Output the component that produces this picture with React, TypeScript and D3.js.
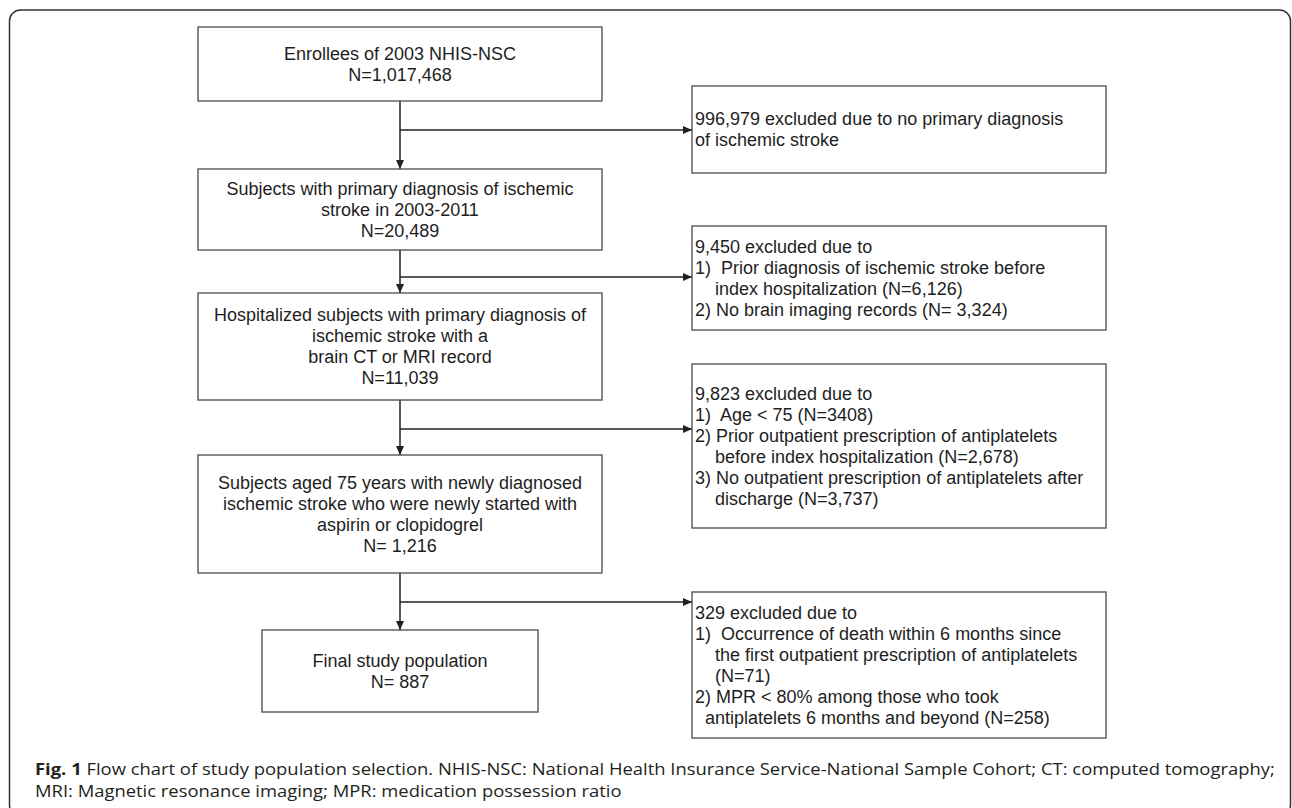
import { useEffect, useRef } from 'react';
import * as d3 from 'd3';

// text of the main flow, top to bottom
const mainSteps: string[][] = [
  ['Enrollees of 2003 NHIS-NSC', 'N=1,017,468'],
  ['Subjects with primary diagnosis of ischemic', 'stroke in 2003-2011', 'N=20,489'],
  ['Hospitalized subjects with primary diagnosis of', 'ischemic stroke with a', 'brain CT or MRI record', 'N=11,039'],
  ['Subjects aged 75 years with newly diagnosed', 'ischemic stroke who were newly started with', 'aspirin or clopidogrel', 'N= 1,216'],
  ['Final study population', 'N= 887'],
];

// text of the exclusion boxes on the right
const exclusions: string[][] = [
  ['996,979 excluded due to no primary diagnosis', 'of ischemic stroke'],
  [
    '9,450 excluded due to',
    '1)  Prior diagnosis of ischemic stroke before',
    '    index hospitalization (N=6,126)',
    '2) No brain imaging records (N= 3,324)',
  ],
  [
    '9,823 excluded due to',
    '1)  Age < 75 (N=3408)',
    '2) Prior outpatient prescription of antiplatelets',
    '    before index hospitalization (N=2,678)',
    '3) No outpatient prescription of antiplatelets after',
    '    discharge (N=3,737)',
  ],
  [
    '329 excluded due to',
    '1)  Occurrence of death within 6 months since',
    '    the first outpatient prescription of antiplatelets',
    '    (N=71)',
    '2) MPR < 80% among those who took',
    '  antiplatelets 6 months and beyond (N=258)',
  ],
];

const captionLabel = 'Fig. 1';
const captionLines = [
  ' Flow chart of study population selection. NHIS-NSC: National Health Insurance Service-National Sample Cohort; CT: computed tomography;',
  'MRI: Magnetic resonance imaging; MPR: medication possession ratio',
];

const W = 1292;
const H = 808;

// geometry of the boxes
const mainBoxes = [
  { x0: 198, x1: 602, y0: 27, y1: 101 },
  { x0: 198, x1: 602, y0: 169, y1: 250 },
  { x0: 198, x1: 602, y0: 293, y1: 400 },
  { x0: 198, x1: 602, y0: 455, y1: 573 },
  { x0: 262, x1: 538, y0: 630, y1: 712 },
];
const exclBoxes = [
  { x0: 692, x1: 1106, y0: 86, y1: 173 },
  { x0: 692, x1: 1106, y0: 226, y1: 330 },
  { x0: 692, x1: 1106, y0: 364, y1: 528 },
  { x0: 692, x1: 1106, y0: 592, y1: 738 },
];
const branchY = [130, 277, 429, 602];
const stemX = 400;

const FONT = 'Liberation Sans, Arial, Helvetica, sans-serif';
const FS = 18;
const LH = 21;

export default function App() {
  const ref = useRef<SVGSVGElement>(null);

  useEffect(() => {
    if (!ref.current) return;
    const svg = d3.select(ref.current);
    svg.selectAll('*').remove();

    svg.append('defs')
      .append('marker')
      .attr('id', 'arrow')
      .attr('viewBox', '0 0 9 8')
      .attr('refX', 9)
      .attr('refY', 4)
      .attr('markerWidth', 9)
      .attr('markerHeight', 8)
      .attr('markerUnits', 'userSpaceOnUse')
      .attr('orient', 'auto')
      .append('path')
      .attr('d', 'M0,0L9,4L0,8Z')
      .attr('fill', '#222');

    // outer frame, bottom edge runs off the page
    svg.append('rect')
      .attr('x', 9.5)
      .attr('y', 10)
      .attr('width', 1281)
      .attr('height', 806)
      .attr('rx', 11)
      .attr('fill', 'none')
      .attr('stroke', '#333')
      .attr('stroke-width', 1.5);

    const line = d3.line<[number, number]>();
    const links = svg.append('g')
      .attr('fill', 'none')
      .attr('stroke', '#222')
      .attr('stroke-width', 1.5);

    // vertical arrows down the main flow
    mainBoxes.slice(1).forEach((b, i) => {
      links.append('path')
        .attr('d', line([[stemX, mainBoxes[i].y1], [stemX, b.y0]]))
        .attr('marker-end', 'url(#arrow)');
    });
    // side arrows to exclusions
    exclBoxes.forEach((b, i) => {
      links.append('path')
        .attr('d', line([[stemX, branchY[i]], [b.x0, branchY[i]]]))
        .attr('marker-end', 'url(#arrow)');
    });

    // main boxes
    const mg = svg.append('g');
    mainBoxes.forEach((b, i) => {
      mg.append('rect')
        .attr('x', b.x0).attr('y', b.y0)
        .attr('width', b.x1 - b.x0).attr('height', b.y1 - b.y0)
        .attr('fill', '#fff')
        .attr('stroke', '#4a4a4a')
        .attr('stroke-width', 1.3);
      const lines = mainSteps[i];
      const cy = (b.y0 + b.y1) / 2;
      mg.append('g')
        .selectAll('text')
        .data(lines)
        .join('text')
        .attr('x', (b.x0 + b.x1) / 2)
        .attr('y', (_, k) => cy + (k - (lines.length - 1) / 2) * LH)
        .attr('dy', '0.35em')
        .attr('text-anchor', 'middle')
        .attr('font-family', FONT)
        .attr('font-size', FS)
        .attr('fill', '#1e1e1e')
        .text(d => d);
    });

    // exclusion boxes
    const eg = svg.append('g');
    exclBoxes.forEach((b, i) => {
      eg.append('rect')
        .attr('x', b.x0).attr('y', b.y0)
        .attr('width', b.x1 - b.x0).attr('height', b.y1 - b.y0)
        .attr('fill', '#fff')
        .attr('stroke', '#4a4a4a')
        .attr('stroke-width', 1.3);
      const lines = exclusions[i];
      const cy = (b.y0 + b.y1) / 2;
      eg.append('g')
        .selectAll('text')
        .data(lines)
        .join('text')
        .attr('x', b.x0 + 3)
        .attr('y', (_, k) => cy + (k - (lines.length - 1) / 2) * LH)
        .attr('dy', '0.35em')
        .attr('font-family', FONT)
        .attr('font-size', FS)
        .attr('fill', '#1e1e1e')
        .style('white-space', 'pre')
        .text(d => d);
    });

    // caption, squeezed to the condensed width of the original
    const capX = 35;
    const capRight = 1276;
    const cap = svg.append('g');
    const t1 = cap.append('text')
      .attr('font-family', 'Open Sans, sans-serif')
      .attr('font-size', 16.5)
      .attr('fill', '#231f20')
      .style('white-space', 'pre');
    t1.append('tspan').attr('font-weight', 700).text(captionLabel);
    t1.append('tspan').text(captionLines[0]);
    const t2 = cap.append('text')
      .attr('font-family', 'Open Sans, sans-serif')
      .attr('font-size', 16.5)
      .attr('fill', '#231f20')
      .text(captionLines[1]);
    const len = (t1.node() as SVGTextElement).getComputedTextLength();
    const sx = (capRight - capX) / len;
    t1.attr('transform', `translate(${capX},775) scale(${sx},1)`);
    t2.attr('transform', `translate(${capX},797) scale(${sx},1)`);
  }, []);

  return (
    <svg
      ref={ref}
      width={W}
      height={H}
      style={{ position: 'absolute', left: 0, top: 0, display: 'block', background: '#fff' }}
    />
  );
}
